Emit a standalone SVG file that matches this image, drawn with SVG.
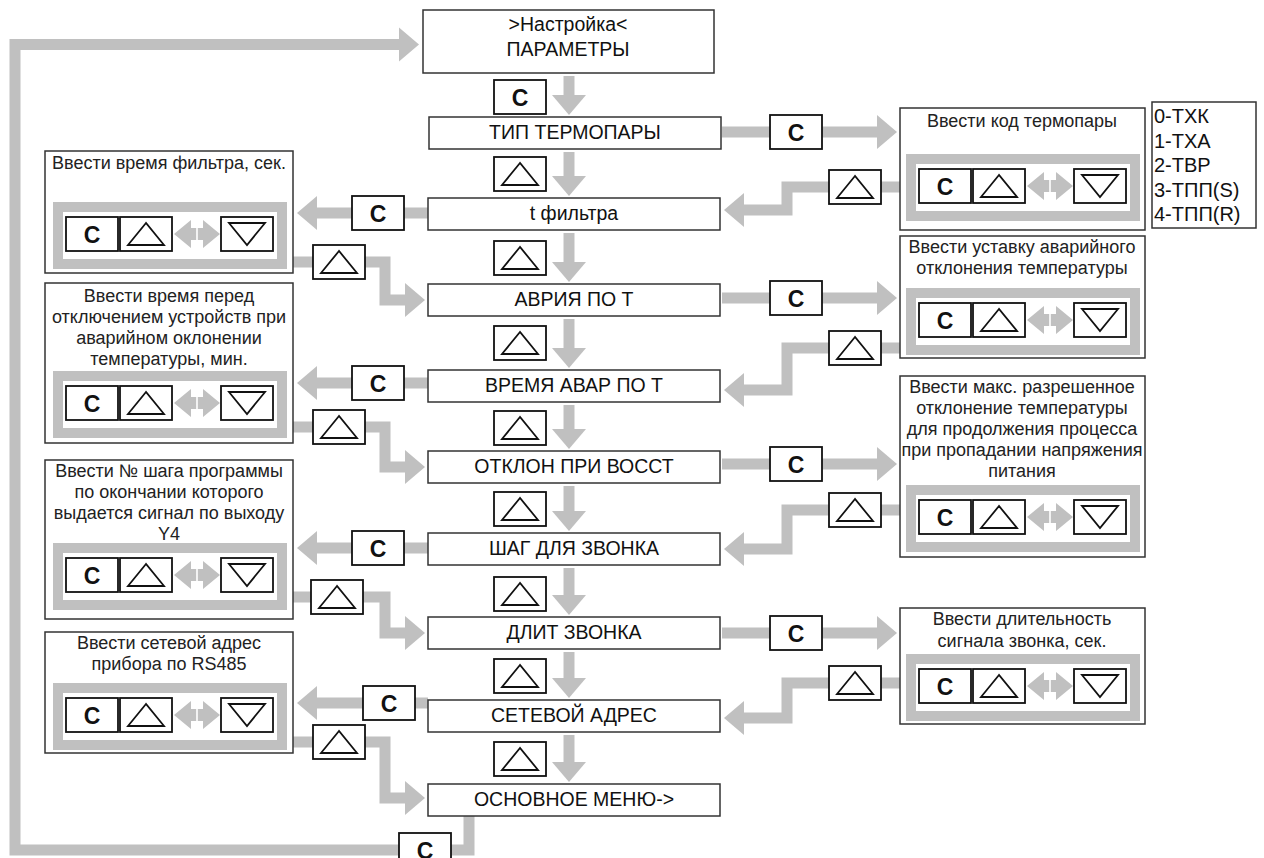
<svg xmlns="http://www.w3.org/2000/svg" xmlns:xlink="http://www.w3.org/1999/xlink" width="1264" height="858" viewBox="0 0 1264 858">
<style>
.bx{fill:#fff;stroke:#333;stroke-width:1.5}
.key{fill:#fff;stroke:#111;stroke-width:1.8}
.tri{fill:none;stroke:#111;stroke-width:1.8;stroke-linejoin:miter}
.kc{font-family:"Liberation Sans",Arial,sans-serif;font-weight:bold;font-size:23px;fill:#111;text-anchor:middle}
.m{font-family:"Liberation Sans",Arial,sans-serif;font-size:19.5px;fill:#111;text-anchor:middle}
.d{font-family:"Liberation Sans",Arial,sans-serif;font-size:18px;fill:#222;text-anchor:middle}
.lg{font-family:"Liberation Sans",Arial,sans-serif;font-size:20px;fill:#111}
.g{fill:none;stroke:#c0c0c0;stroke-width:11;stroke-linejoin:miter;marker-end:url(#ah)}
.frame{fill:#fff;stroke:#c0c0c0;stroke-width:10}
</style>
<defs>
<marker id="ah" markerUnits="userSpaceOnUse" markerWidth="22" markerHeight="34" refX="0" refY="17" orient="auto" overflow="visible">
<path d="M0,0 L20,17 L0,34 Z" fill="#c0c0c0"/>
</marker>
<g id="kC"><rect class="key" x="0" y="0" width="52" height="34"/><text class="kc" x="26" y="26">C</text></g>
<g id="kU"><rect class="key" x="0" y="0" width="52" height="34"/><path class="tri" d="M26,6 L8,28 L44,28 Z"/></g>
<g id="kD"><rect class="key" x="0" y="0" width="52" height="34"/><path class="tri" d="M8,6 L44,6 L26,28 Z"/></g>
<g id="panel">
<rect class="frame" x="5" y="5" width="224" height="57"/>
<use xlink:href="#kC" x="13" y="15"/>
<use xlink:href="#kU" x="67" y="15"/>
<path d="M121,32 L138,18 L138,26 L143.2,26 L143.2,38 L138,38 L138,46 Z M167,32 L150,18 L150,26 L144.8,26 L144.8,38 L150,38 L150,46 Z" fill="#c0c0c0"/>
<use xlink:href="#kD" x="168" y="15"/>
</g>
</defs>

<g id="connectors">
<path class="g" d="M469,816 V850 H15 V44.5 H399"/>
<path class="g" d="M569,76 V95"/>
<path class="g" d="M569,152 V176"/>
<path class="g" d="M569,233 V262"/>
<path class="g" d="M569,319 V348"/>
<path class="g" d="M569,405 V429"/>
<path class="g" d="M569,486 V511"/>
<path class="g" d="M569,568 V595"/>
<path class="g" d="M569,652 V678"/>
<path class="g" d="M569,735 V762"/>
<path class="g" d="M722,132 H877"/>
<path class="g" d="M722,298 H877"/>
<path class="g" d="M722,464 H877"/>
<path class="g" d="M722,633 H877"/>
<path class="g" d="M900,187 H787 V210 H744"/>
<path class="g" d="M900,348 H787 V390 H744"/>
<path class="g" d="M900,510 H787 V549 H744"/>
<path class="g" d="M900,683 H787 V718 H744"/>
<path class="g" d="M428,213 H317"/>
<path class="g" d="M428,383 H317"/>
<path class="g" d="M428,548 H317"/>
<path class="g" d="M428,703 H317"/>
<path class="g" d="M293,262 H385 V300 H405"/>
<path class="g" d="M293,427 H385 V467 H405"/>
<path class="g" d="M293,597 H385 V633 H405"/>
<path class="g" d="M293,742 H385 V798 H405"/>
<use xlink:href="#kC" x="494" y="80"/>
<use xlink:href="#kU" x="494" y="157"/>
<use xlink:href="#kU" x="494" y="241"/>
<use xlink:href="#kU" x="494" y="326"/>
<use xlink:href="#kU" x="494" y="411"/>
<use xlink:href="#kU" x="494" y="492"/>
<use xlink:href="#kU" x="494" y="577"/>
<use xlink:href="#kU" x="494" y="659"/>
<use xlink:href="#kU" x="494" y="742"/>
<use xlink:href="#kC" x="770" y="115"/>
<use xlink:href="#kC" x="770" y="281"/>
<use xlink:href="#kC" x="770" y="447"/>
<use xlink:href="#kC" x="770" y="616"/>
<use xlink:href="#kU" x="829" y="170"/>
<use xlink:href="#kU" x="829" y="331"/>
<use xlink:href="#kU" x="829" y="493"/>
<use xlink:href="#kU" x="829" y="666"/>
<use xlink:href="#kC" x="352" y="196"/>
<use xlink:href="#kC" x="352" y="366"/>
<use xlink:href="#kC" x="352" y="531"/>
<use xlink:href="#kC" x="363" y="686"/>
<use xlink:href="#kU" x="313" y="245"/>
<use xlink:href="#kU" x="313" y="410"/>
<use xlink:href="#kU" x="311" y="580"/>
<use xlink:href="#kU" x="313" y="725"/>
<use xlink:href="#kC" x="399" y="833"/>
</g>

<g id="n-top"><rect class="bx" x="423" y="10" width="291" height="63"/><text class="m" x="568" y="31">&gt;Настройка&lt;</text><text class="m" x="568" y="56">ПАРАМЕТРЫ</text></g>
<g id="n-tip"><rect class="bx" x="429" y="117" width="292" height="32"/><text class="m" x="575" y="139">ТИП ТЕРМОПАРЫ</text></g>
<g id="n-filt"><rect class="bx" x="428" y="198" width="292" height="32"/><text class="m" x="574" y="220">t фильтра</text></g>
<g id="n-avr"><rect class="bx" x="428" y="284" width="292" height="32"/><text class="m" x="574" y="306">АВРИЯ ПО Т</text></g>
<g id="n-vrem"><rect class="bx" x="428" y="370" width="292" height="32"/><text class="m" x="574" y="392">ВРЕМЯ АВАР ПО Т</text></g>
<g id="n-otkl"><rect class="bx" x="428" y="451" width="292" height="32"/><text class="m" x="574" y="473">ОТКЛОН ПРИ ВОССТ</text></g>
<g id="n-shag"><rect class="bx" x="428" y="533" width="292" height="32"/><text class="m" x="574" y="555">ШАГ ДЛЯ ЗВОНКА</text></g>
<g id="n-dlit"><rect class="bx" x="428" y="617" width="292" height="32"/><text class="m" x="574" y="639">ДЛИТ ЗВОНКА</text></g>
<g id="n-set"><rect class="bx" x="428" y="700" width="292" height="32"/><text class="m" x="574" y="722">СЕТЕВОЙ АДРЕС</text></g>
<g id="n-osn"><rect class="bx" x="428" y="784" width="292" height="32"/><text class="m" x="574" y="806">ОСНОВНОЕ МЕНЮ-&gt;</text></g>

<g id="l1"><rect class="bx" x="45" y="151" width="248" height="122"/><text class="d" x="169" y="169">Ввести время фильтра, сек.</text><use xlink:href="#panel" x="53" y="202"/></g>
<g id="l2"><rect class="bx" x="45" y="283" width="248" height="160"/><text class="d" x="169" y="302">Ввести время перед</text><text class="d" x="169" y="323">отключением устройств при</text><text class="d" x="169" y="344">аварийном оклонении</text><text class="d" x="169" y="365">температуры, мин.</text><use xlink:href="#panel" x="53" y="371"/></g>
<g id="l3"><rect class="bx" x="45" y="460" width="248" height="159"/><text class="d" x="169" y="477">Ввести № шага программы</text><text class="d" x="169" y="498">по окончании которого</text><text class="d" x="169" y="519">выдается сигнал по выходу</text><text class="d" x="169" y="540">Y4</text><use xlink:href="#panel" x="53" y="543"/></g>
<g id="l4"><rect class="bx" x="45" y="632" width="248" height="121"/><text class="d" x="169" y="649">Ввести сетевой адрес</text><text class="d" x="169" y="670">прибора по RS485</text><use xlink:href="#panel" x="53" y="683"/></g>

<g id="r1"><rect class="bx" x="900" y="108" width="245" height="122"/><text class="d" x="1022" y="127">Ввести код термопары</text><use xlink:href="#panel" x="906" y="154"/></g>
<g id="r2"><rect class="bx" x="900" y="236" width="245" height="122"/><text class="d" x="1022" y="253">Ввести уставку аварийного</text><text class="d" x="1022" y="274">отклонения температуры</text><use xlink:href="#panel" x="906" y="288"/></g>
<g id="r3"><rect class="bx" x="900" y="376" width="245" height="181"/><text class="d" x="1022" y="393">Ввести макс. разрешенное</text><text class="d" x="1022" y="414">отклонение температуры</text><text class="d" x="1022" y="435">для продолжения процесса</text><text class="d" x="1022" y="456">при пропадании напряжения</text><text class="d" x="1022" y="477">питания</text><use xlink:href="#panel" x="906" y="485"/></g>
<g id="r4"><rect class="bx" x="900" y="608" width="245" height="116"/><text class="d" x="1022" y="625">Ввести длительность</text><text class="d" x="1022" y="647">сигнала звонка, сек.</text><use xlink:href="#panel" x="906" y="654"/></g>

<g id="legend"><rect class="bx" x="1152" y="102" width="104" height="126"/>
<text class="lg" x="1154" y="123">0-ТХК</text>
<text class="lg" x="1154" y="148">1-ТХА</text>
<text class="lg" x="1154" y="172">2-ТВР</text>
<text class="lg" x="1154" y="197">3-ТПП(S)</text>
<text class="lg" x="1154" y="221">4-ТПП(R)</text>
</g>
</svg>
